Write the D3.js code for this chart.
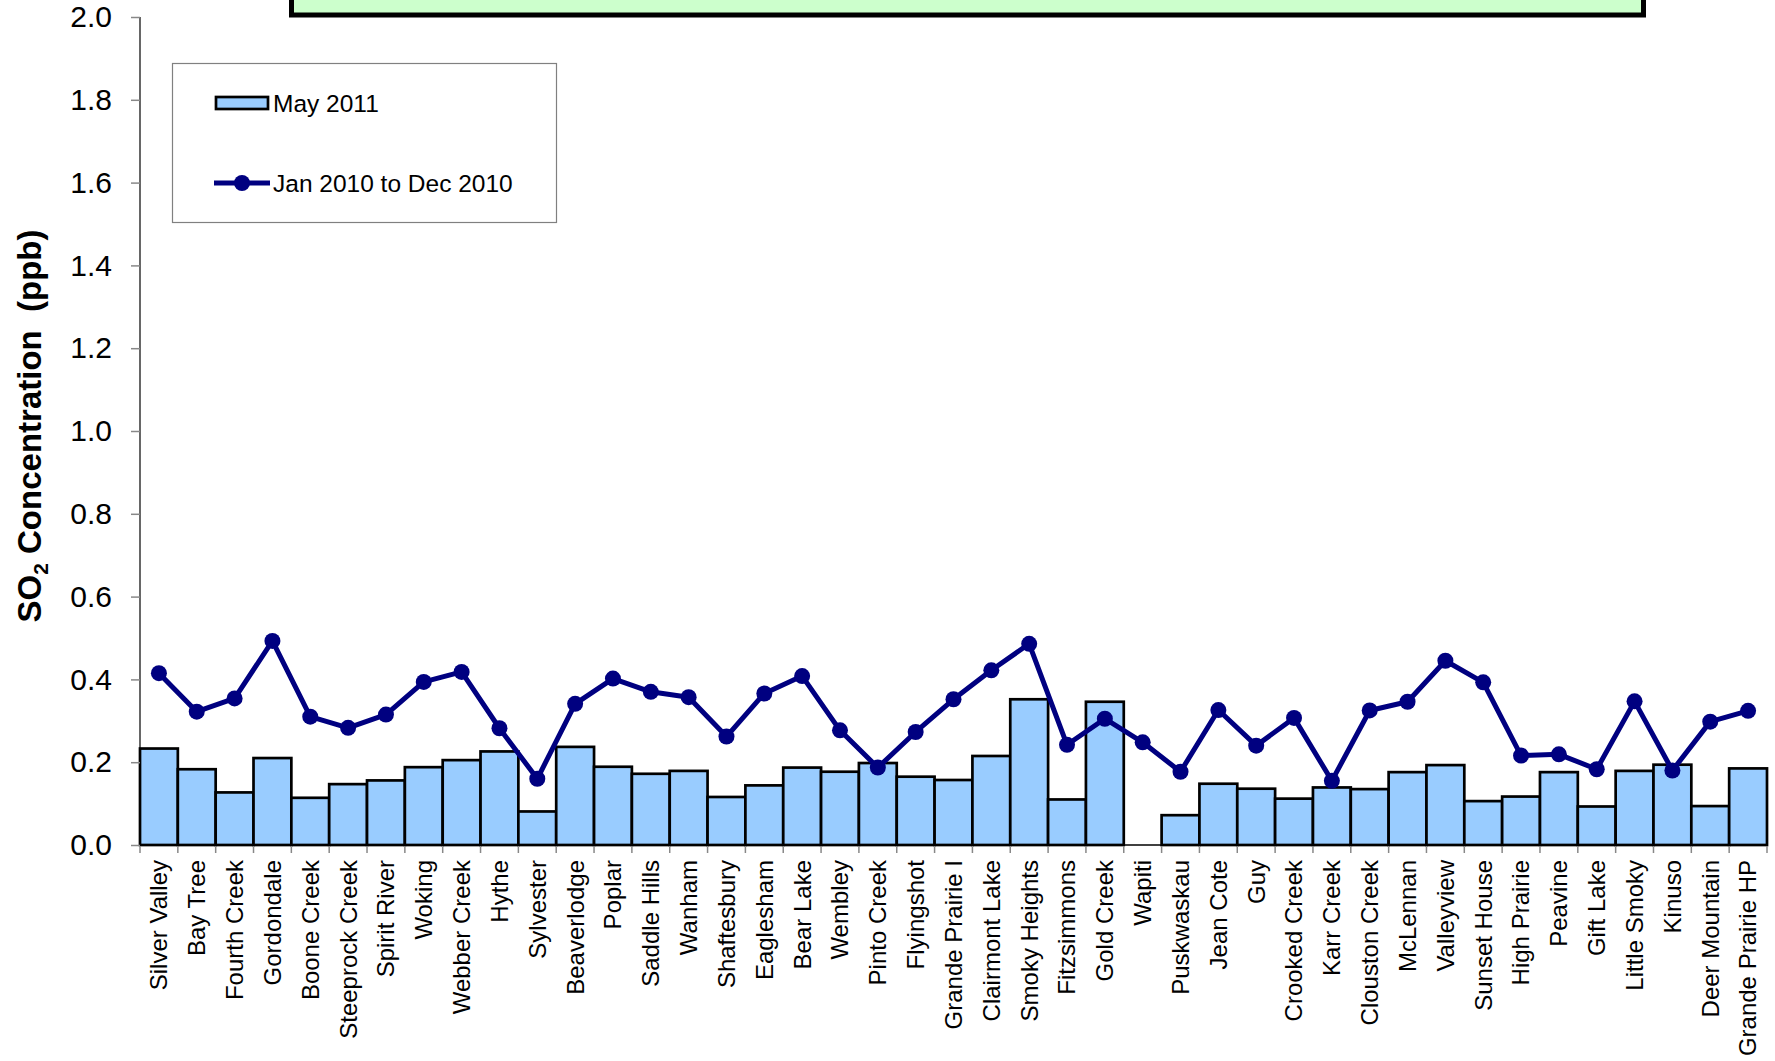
<!DOCTYPE html>
<html><head><meta charset="utf-8">
<script src="https://cdn.jsdelivr.net/npm/d3@7"></script>
<style>body{margin:0;background:#fff}svg{display:block}text{font-family:"Liberation Sans",Arial,sans-serif}</style>
</head><body>
<script>
const categories = ["Silver Valley","Bay Tree","Fourth Creek","Gordondale","Boone Creek","Steeprock Creek","Spirit River","Woking","Webber Creek","Hythe","Sylvester","Beaverlodge","Poplar","Saddle Hills","Wanham","Shaftesbury","Eaglesham","Bear Lake","Wembley","Pinto Creek","Flyingshot","Grande Prairie I","Clairmont Lake","Smoky Heights","Fitzsimmons","Gold Creek","Wapiti","Puskwaskau","Jean Cote","Guy","Crooked Creek","Karr Creek","Clouston Creek","McLennan","Valleyview","Sunset House","High Prairie","Peavine","Gift Lake","Little Smoky","Kinuso","Deer Mountain","Grande Prairie HP"];
const may2011 = [0.233,0.183,0.127,0.210,0.114,0.147,0.156,0.188,0.205,0.226,0.081,0.237,0.189,0.172,0.179,0.116,0.144,0.187,0.177,0.198,0.165,0.157,0.215,0.352,0.110,0.346,null,0.072,0.148,0.136,0.112,0.139,0.135,0.176,0.193,0.106,0.117,0.176,0.093,0.179,0.194,0.094,0.185];
const jan2010to2010 = [0.415,0.322,0.354,0.493,0.310,0.283,0.315,0.394,0.418,0.282,0.160,0.341,0.402,0.370,0.357,0.262,0.366,0.408,0.277,0.187,0.273,0.352,0.422,0.486,0.242,0.305,0.248,0.177,0.326,0.240,0.307,0.155,0.325,0.346,0.445,0.393,0.216,0.219,0.183,0.347,0.180,0.298,0.324];
const yTicks = [0,0.2,0.4,0.6,0.8,1.0,1.2,1.4,1.6,1.8,2.0];
const seriesNames = ["May 2011","Jan 2010 to Dec 2010"];

const W = 1775, H = 1061;
const svg = d3.select("body").append("svg").attr("width", W).attr("height", H);

const x = d3.scaleBand().domain(categories).range([140, 1767]).padding(0);
const y = d3.scaleLinear().domain([0, 2]).range([845, 17]);

// title box (partially visible)
svg.append("rect").attr("x", 291.5).attr("y", -60).attr("width", 1352).attr("height", 75)
  .attr("fill", "#CCFFCC").attr("stroke", "#000").attr("stroke-width", 5);

// bars
svg.append("g").selectAll("rect").data(categories.map((c, i) => ({c, v: may2011[i]})).filter(d => d.v != null))
  .join("rect")
  .attr("x", d => x(d.c)).attr("width", x.bandwidth())
  .attr("y", d => y(d.v)).attr("height", d => y(0) - y(d.v))
  .attr("fill", "#99CCFF").attr("stroke", "#000").attr("stroke-width", 2.7);

// y axis
const yAxis = svg.append("g").attr("transform", "translate(140,0)")
  .call(d3.axisLeft(y).tickValues(yTicks).tickFormat(d3.format(".1f")).tickSize(9).tickPadding(19));
yAxis.select(".domain").attr("stroke", "#000").attr("stroke-width", 1.2).attr("d", `M0,${y(2)}V${y(0)}`);
yAxis.selectAll(".tick line").attr("stroke", "#888").attr("stroke-width", 1.5);
yAxis.selectAll(".tick text").attr("font-size", 30).attr("fill", "#000").attr("font-family", "Liberation Sans, Arial, sans-serif");

// x axis
const xAxis = svg.append("g").attr("transform", "translate(0,845)")
  .call(d3.axisBottom(x).tickSize(0).tickPadding(0));
xAxis.select(".domain").attr("stroke", "#000").attr("stroke-width", 1.5).attr("d", "M140,0H1767");
xAxis.selectAll(".tick text")
  .attr("font-size", 24).attr("fill", "#000").attr("font-family", "Liberation Sans, Arial, sans-serif")
  .attr("text-anchor", "end").attr("transform", "rotate(-90)")
  .attr("x", -15).attr("y", 0).attr("dy", "0.35em");
const bounds = categories.map(c => x(c)).concat([x(categories[categories.length-1]) + x.bandwidth()]);
svg.append("g").selectAll("line").data(bounds).join("line")
  .attr("x1", d => d).attr("x2", d => d).attr("y1", 846).attr("y2", 853)
  .attr("stroke", "#888").attr("stroke-width", 1.5);

// line series
const line = d3.line().x((d, i) => x(categories[i]) + x.bandwidth()/2).y(d => y(d));
svg.append("path").datum(jan2010to2010).attr("d", line)
  .attr("fill", "none").attr("stroke", "#000080").attr("stroke-width", 5).attr("stroke-linejoin", "round");
svg.append("g").selectAll("circle").data(jan2010to2010).join("circle")
  .attr("cx", (d, i) => x(categories[i]) + x.bandwidth()/2).attr("cy", d => y(d)).attr("r", 8)
  .attr("fill", "#000080");

// y axis title
const yt = svg.append("text").attr("transform", "translate(41,426) rotate(-90)")
  .attr("text-anchor", "middle").attr("font-size", 33).attr("font-weight", "bold").attr("fill", "#000")
  .style("white-space", "pre");
yt.append("tspan").text("SO");
yt.append("tspan").text("2").attr("font-size", 21).attr("dy", 7);
yt.append("tspan").text(" Concentration  (ppb)").attr("dy", -7);

// legend
const lg = svg.append("g");
lg.append("rect").attr("x", 172.5).attr("y", 63.5).attr("width", 384).attr("height", 159)
  .attr("fill", "#fff").attr("stroke", "#808080").attr("stroke-width", 1.2);
lg.append("rect").attr("x", 216).attr("y", 97).attr("width", 52).attr("height", 12)
  .attr("fill", "#99CCFF").attr("stroke", "#000").attr("stroke-width", 2.7);
lg.append("text").attr("x", 273).attr("y", 103).attr("dy", "0.35em").attr("font-size", 24.5).text(seriesNames[0]);
lg.append("line").attr("x1", 214).attr("x2", 270).attr("y1", 183).attr("y2", 183)
  .attr("stroke", "#000080").attr("stroke-width", 5);
lg.append("circle").attr("cx", 242).attr("cy", 183).attr("r", 8).attr("fill", "#000080");
lg.append("text").attr("x", 273).attr("y", 183).attr("dy", "0.35em").attr("font-size", 24.5).text(seriesNames[1]);
</script>
</body></html>
